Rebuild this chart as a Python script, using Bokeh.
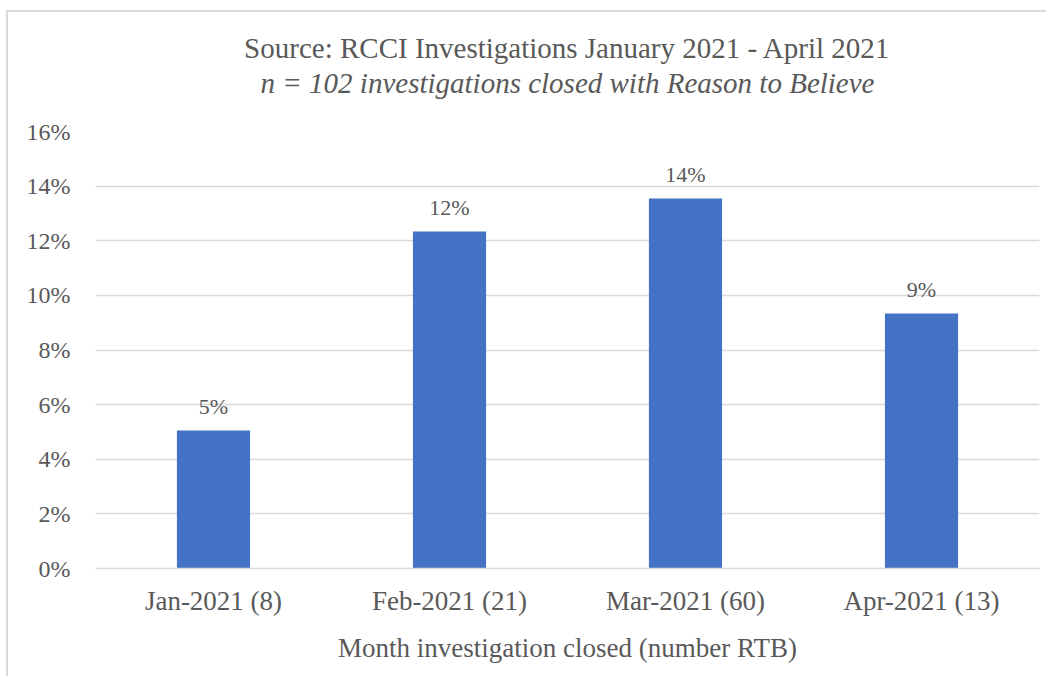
from bokeh.plotting import figure
from bokeh.models import ColumnDataSource, Title, FixedTicker, NumeralTickFormatter, Range1d
from bokeh.core.properties import value
from bokeh.embed import file_html
from bokeh.resources import INLINE

categories = ["Jan-2021 (8)", "Feb-2021 (21)", "Mar-2021 (60)", "Apr-2021 (13)"]
shares = [0.0505, 0.1234, 0.1355, 0.0934]
bar_labels = [f"{round(v * 100)}%" for v in shares]
y_ticks = [0, 0.02, 0.04, 0.06, 0.08, 0.10, 0.12, 0.14, 0.16]

title_main = "Source: RCCI Investigations January 2021 - April 2021"
title_sub = "n = 102 investigations closed with Reason to Believe"
x_title = "Month investigation closed (number RTB)"

FONT = "Liberation Serif"
GREY = "#595959"
BAR = "#4472C4"
GRID = "#d9d9d9"

src = ColumnDataSource(dict(cat=categories, v=shares, lab=bar_labels))

p = figure(x_range=categories, y_range=Range1d(0, 0.16),
           width=1040, height=666,
           output_backend="svg", toolbar_location=None,
           min_border_left=87, min_border_right=9, min_border_top=119, min_border_bottom=110)
p.styles = {"border-left": "2px solid #d9d9d9", "border-top": "2px solid #d9d9d9",
            "margin-top": "10px", "margin-left": "6px"}

p.add_layout(Title(text=title_sub, text_font=FONT, text_font_size="29px",
                   text_font_style="italic", text_color=GREY, align="center",
                   standoff=66), "above")
p.add_layout(Title(text=title_main, text_font=FONT, text_font_size="29px",
                   text_font_style="normal", text_color=GREY, align="center",
                   standoff=-65), "above")

p.vbar(x="cat", top="v", width=0.31, source=src, fill_color=BAR, line_color=None)
p.text(x="cat", y="v", text="lab", source=src, text_font=value(FONT),
       text_font_size="22px", text_color=GREY, text_align="center",
       text_baseline="alphabetic", y_offset=-24)

p.outline_line_color = None
p.background_fill_color = "white"
p.border_fill_color = "white"

p.xgrid.grid_line_color = None
p.ygrid.grid_line_color = GRID
p.ygrid.grid_line_width = 1.5
p.yaxis.ticker = FixedTicker(ticks=y_ticks)
p.yaxis.formatter = NumeralTickFormatter(format="0%")
p.yaxis.axis_line_color = None
p.yaxis.major_tick_line_color = None
p.yaxis.minor_tick_line_color = None
p.yaxis.major_label_text_font = FONT
p.yaxis.major_label_text_font_size = "24px"
p.yaxis.major_label_text_color = GREY
p.yaxis.major_label_standoff = 19

p.xaxis.axis_line_color = GRID
p.xaxis.axis_line_width = 1.5
p.xaxis.major_tick_line_color = None
p.xaxis.minor_tick_line_color = None
p.xaxis.major_label_text_font = FONT
p.xaxis.major_label_text_font_size = "27px"
p.xaxis.major_label_text_color = GREY
p.xaxis.major_label_standoff = 11
p.xaxis.axis_label = x_title
p.xaxis.axis_label_text_font = FONT
p.xaxis.axis_label_text_font_size = "27px"
p.xaxis.axis_label_text_font_style = "normal"
p.xaxis.axis_label_text_color = GREY
p.xaxis.axis_label_standoff = 14

open("out.html", "w").write(file_html(p, INLINE))
